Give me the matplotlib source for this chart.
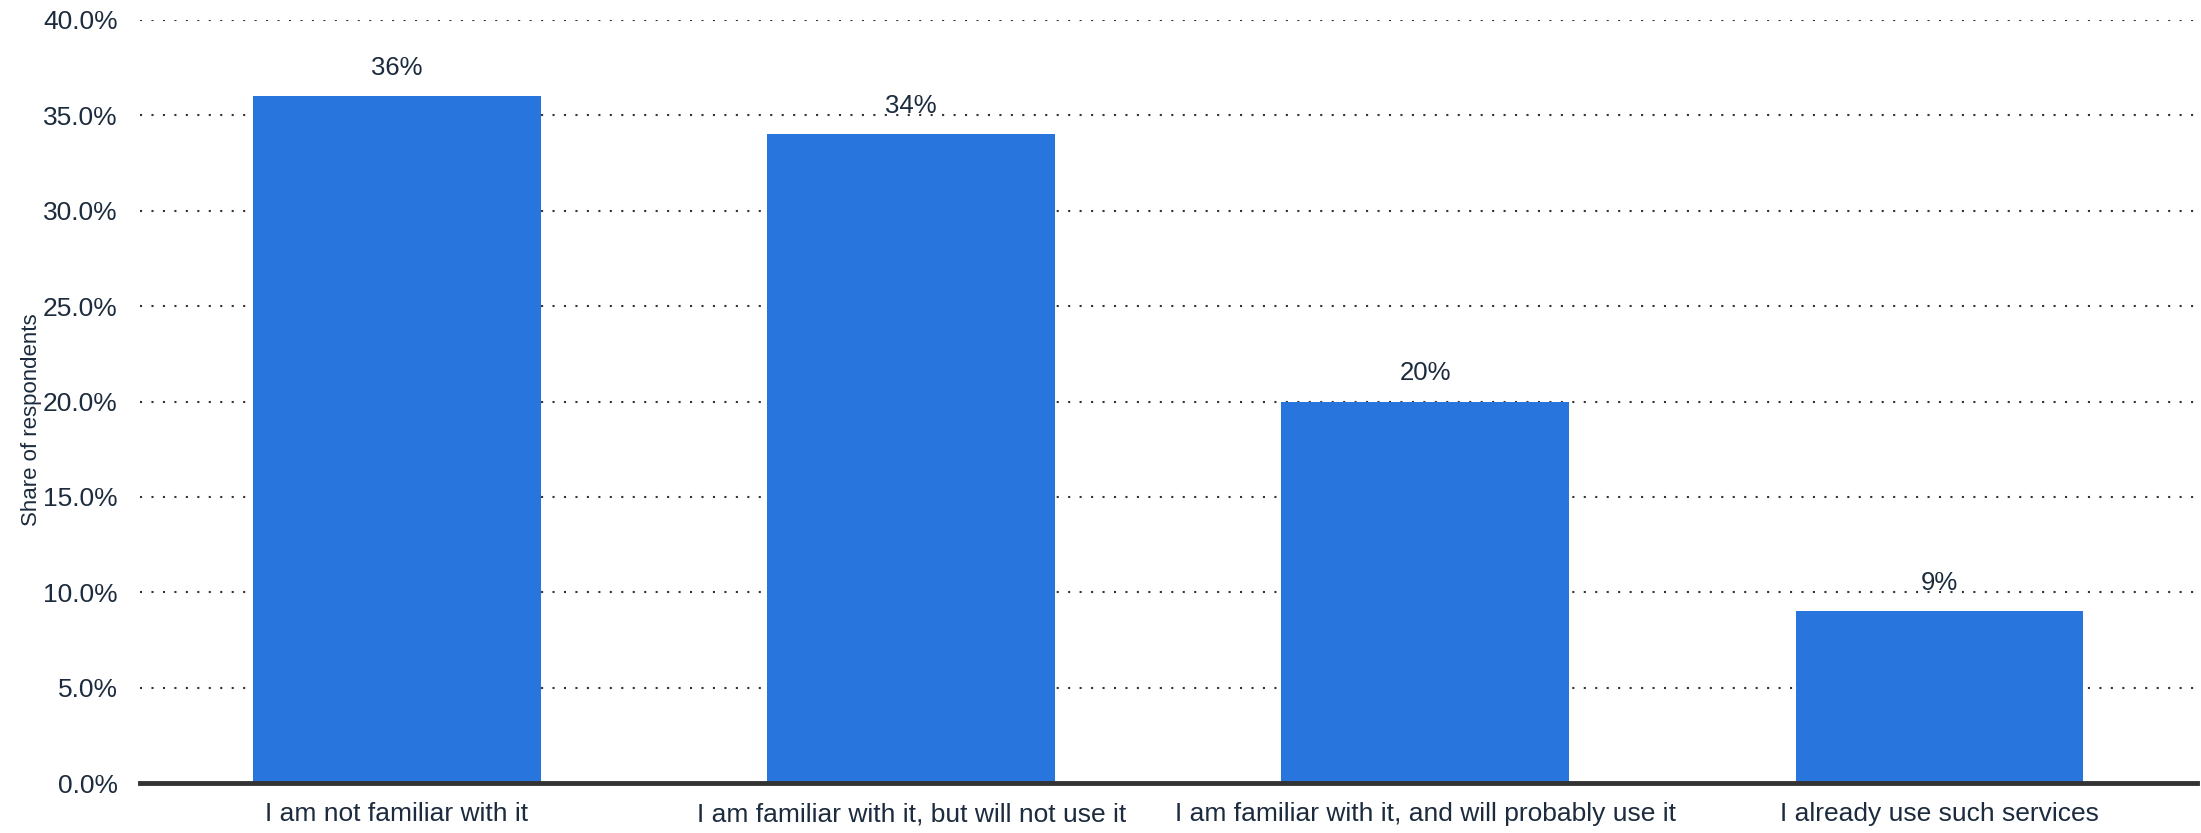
import matplotlib.pyplot as plt
from matplotlib.ticker import FuncFormatter

# Chart data
categories = [
    "I am not familiar with it",
    "I am familiar with it, but will not use it",
    "I am familiar with it, and will probably use it",
    "I already use such services",
]
shares = [36, 34, 20, 9]
y_ticks = [0, 5, 10, 15, 20, 25, 30, 35, 40]

plt.rcParams["font.family"] = ["Liberation Sans", "DejaVu Sans"]
text_color = "#1c2b3d"
bar_color = "#2876dd"

fig = plt.figure(figsize=(22.01, 8.33), dpi=100)
ax = fig.add_axes([0.0636, 0.060, 0.9344, 0.916])

x = range(len(categories))
bars = ax.bar(x, shares, width=0.56, color=bar_color, zorder=2)

# value labels above bars
for b, v in zip(bars, shares):
    ax.annotate(f"{v}%", (b.get_x() + b.get_width() / 2, b.get_height()),
                xytext=(0, 12), textcoords="offset points",
                ha="center", va="bottom", fontsize=18.5, color=text_color, zorder=3)

ax.set_xlim(-0.5, len(categories) - 0.5)
ax.set_ylim(0, 40)
ax.set_yticks(y_ticks)
ax.yaxis.set_major_formatter(FuncFormatter(lambda v, _: f"{v:.1f}%"))
ax.set_xticks(list(x))
ax.set_xticklabels(categories)

ax.grid(axis="y", linestyle=(0, (1, 4.5)), color="#333333", linewidth=1.5, zorder=1)
ax.set_axisbelow(True)

for side in ["top", "right", "left"]:
    ax.spines[side].set_visible(False)
ax.spines["bottom"].set_color("#333333")
ax.spines["bottom"].set_linewidth(3.5)
ax.spines["bottom"].set_zorder(4)

ax.tick_params(axis="both", length=0, colors=text_color, labelsize=19)
ax.tick_params(axis="y", pad=16)
ax.tick_params(axis="x", pad=14)

ax.set_ylabel("Share of respondents", fontsize=16, color=text_color)
ax.yaxis.set_label_coords(-0.0477, 0.476)

fig.savefig("out.png", dpi=100)
